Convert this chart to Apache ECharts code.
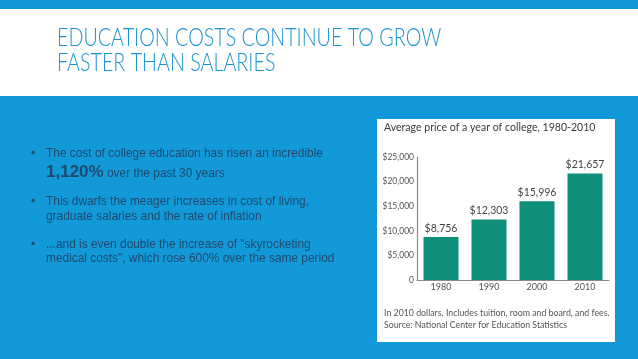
<!DOCTYPE html>
<html>
<head>
<meta charset="utf-8">
<script src="https://cdn.jsdelivr.net/npm/echarts@6/dist/echarts.min.js"></script>
<style>
html,body{margin:0;padding:0;}
#c{width:638px;height:359px;}
</style>
</head>
<body>
<div id="c"></div>
<script>
var years = ['1980', '1990', '2000', '2010'];
var prices = [8756, 12303, 15996, 21657];
var yTicks = [0, 5000, 10000, 15000, 20000, 25000];

var slideTitle = ['EDUCATION COSTS CONTINUE TO GROW', 'FASTER THAN SALARIES'];
var chartTitle = 'Average price of a year of college, 1980-2010';
var footnote = ['In 2010 dollars. Includes tuition, room and board, and fees.', 'Source: National Center for Education Statistics'];

var BLUE = '#1299da';
var TXT = '#1e4a6b';
var bulletFont = '11.9px "Liberation Sans", Arial, sans-serif';

function money(v){ return v === 0 ? '0' : '$' + v.toLocaleString('en-US'); }

var chart = echarts.init(document.getElementById('c'), null, {renderer:'canvas'});
chart.setOption({
  backgroundColor: BLUE,
  animation: false,
  graphic: [
    {type:'rect', z:-5, shape:{x:0,y:9,width:638,height:87}, style:{fill:'#ffffff'}},
    {type:'text', x:57, y:38, scaleX:0.805, style:{text: slideTitle[0], font:'300 24.5px Lato, "Open Sans", sans-serif', fill:'#1a93d1', verticalAlign:'middle'}},
    {type:'text', x:57, y:63, scaleX:0.805, style:{text: slideTitle[1], font:'300 24.5px Lato, "Open Sans", sans-serif', fill:'#1a93d1', verticalAlign:'middle'}},
    {type:'rect', z:-5, shape:{x:377,y:119,width:238,height:223}, style:{fill:'#ffffff'}},
    {type:'text', x:384, y:127, scaleX:0.88, style:{text: chartTitle, font:'12px Lato, sans-serif', fill:'#3a3a3a', verticalAlign:'middle'}},
    {type:'text', x:384, y:313, scaleX:0.925, style:{text: footnote[0], font:'9.5px Lato, sans-serif', fill:'#555555', verticalAlign:'middle'}},
    {type:'text', x:384, y:325, scaleX:0.925, style:{text: footnote[1], font:'9.5px Lato, sans-serif', fill:'#555555', verticalAlign:'middle'}},

    {type:'text', x:31, y:154, style:{text:'•', font:bulletFont, fill:TXT, verticalAlign:'middle'}},
    {type:'text', x:46, y:154, style:{text:'The cost of college education has risen an incredible', font:bulletFont, fill:TXT, verticalAlign:'middle'}},
    {type:'text', x:46, y:172, style:{text:'1,120%', font:'bold 17px "Liberation Sans", Arial, sans-serif', fill:TXT, verticalAlign:'middle'}},
    {type:'text', x:107, y:174, style:{text:'over the past 30 years', font:bulletFont, fill:TXT, verticalAlign:'middle'}},

    {type:'text', x:31, y:202, style:{text:'•', font:bulletFont, fill:TXT, verticalAlign:'middle'}},
    {type:'text', x:46, y:202, style:{text:'This dwarfs the meager increases in cost of living,', font:bulletFont, fill:TXT, verticalAlign:'middle'}},
    {type:'text', x:46, y:217, style:{text:'graduate salaries and the rate of inflation', font:bulletFont, fill:TXT, verticalAlign:'middle'}},

    {type:'text', x:31, y:245, style:{text:'•', font:bulletFont, fill:TXT, verticalAlign:'middle'}},
    {type:'text', x:46, y:245, style:{text:'...and is even double the increase of "skyrocketing', font:bulletFont, fill:TXT, verticalAlign:'middle'}},
    {type:'text', x:46, y:259, style:{text:'medical costs", which rose 600% over the same period', font:bulletFont, fill:TXT, verticalAlign:'middle'}}
  ],
  grid: {left:417, right:29, top:157, bottom:79},
  xAxis: {
    type:'category', data: years,
    axisLine:{show:true, lineStyle:{color:'#8a8a8a', width:1.2}},
    axisTick:{show:false},
    axisLabel:{color:'#555555', fontSize:9, fontFamily:'Lato, sans-serif', margin:3}
  },
  yAxis: {
    type:'value', min:yTicks[0], max:yTicks[yTicks.length-1], interval:5000,
    axisLine:{show:true, lineStyle:{color:'#8a8a8a', width:1.2}},
    axisTick:{show:false},
    splitLine:{show:false},
    axisLabel:{color:'#555555', fontSize:8.5, fontFamily:'Lato, sans-serif', margin:3, formatter: money}
  },
  series: [{
    type:'bar', data: prices, barCategoryGap:'27%',
    itemStyle:{color:'#0f8f79'},
    label:{show:true, position:'top', distance:3, color:'#444444', fontSize:10.5, fontFamily:'Lato, sans-serif', formatter: function(p){return money(p.value);}}
  }]
});
</script>
</body>
</html>
